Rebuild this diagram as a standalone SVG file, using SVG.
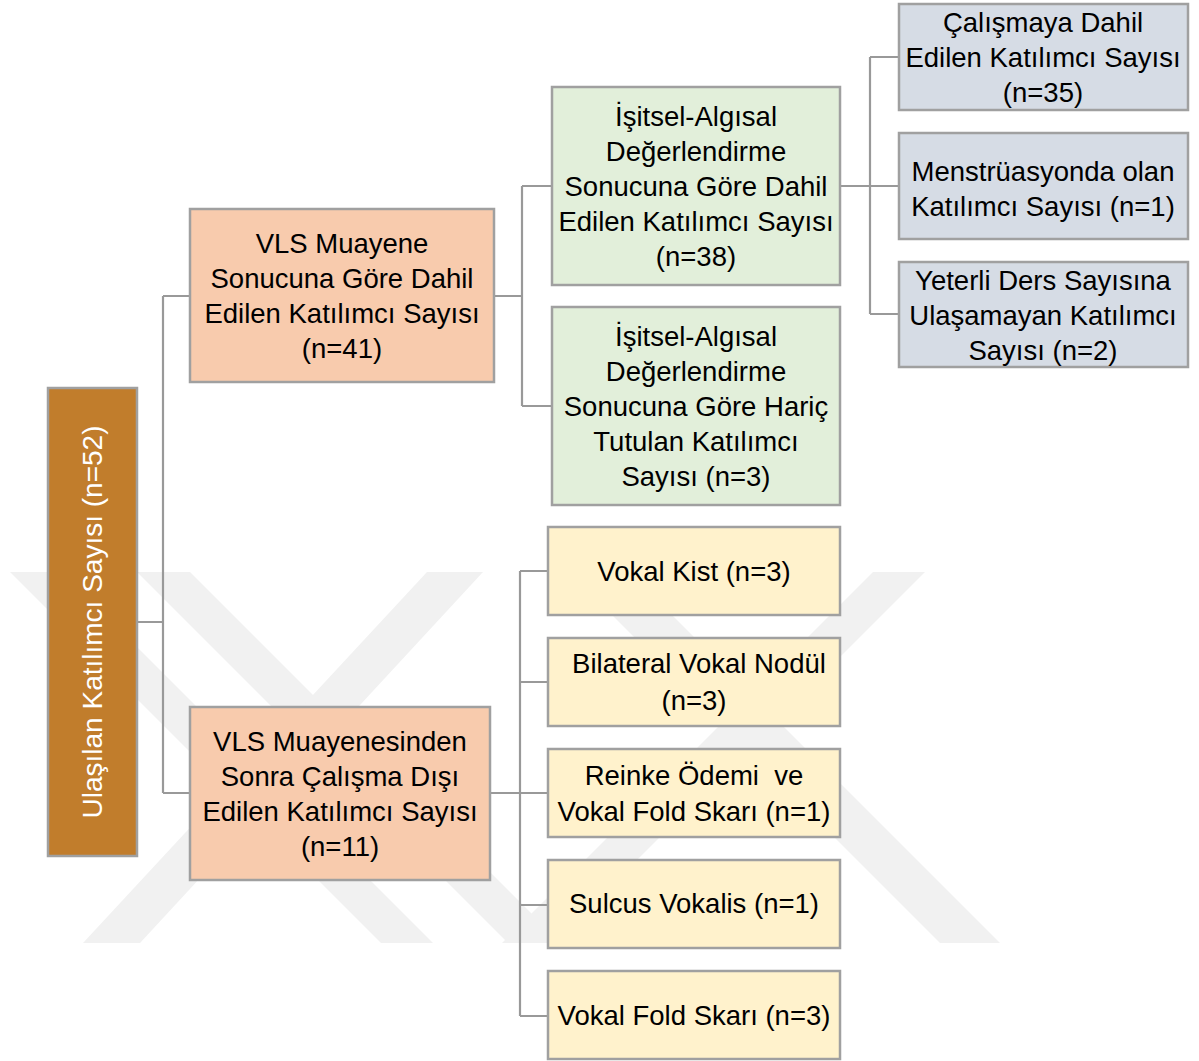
<svg xmlns="http://www.w3.org/2000/svg" width="1199" height="1061" viewBox="0 0 1199 1061">
  <style>
    .box { stroke: #a0a0a0; stroke-width: 2.5; }
    .root { fill: #c17d2c; }
    .salmon { fill: #f8cbad; }
    .green { fill: #e2efda; }
    .blue { fill: #d6dce5; }
    .yellow { fill: #fff2cc; }
    .t { font-family: "Liberation Sans", Arial, sans-serif; font-size: 27.5px; fill: #000; text-anchor: middle; }
    .tw { font-family: "Liberation Sans", Arial, sans-serif; font-size: 28px; fill: #ffffff; text-anchor: middle; }
    .conn { fill: none; stroke: #999999; stroke-width: 2.2; }
    .wm { fill: #f1f1f1; }
  </style>
  <rect width="1199" height="1061" fill="#ffffff"/>
  <g id="watermark">
    <polygon class="wm" points="10,572 62,572 433,943 381,943"/>
    <polygon class="wm" points="137,572 190,572 561,943 508,943"/>
    <polygon class="wm" points="427,572 483,572 140,943 83,943"/>
    <polygon class="wm" points="873,572 925,572 554,943 502,943"/>
    <polygon class="wm" points="569,572 629,572 1000,943 940,943"/>
  </g>
  <g id="connectors">
    <path class="conn" d="M137,622 H163 M163,296 V793 M163,296 H190 M163,793 H190"/>
    <path class="conn" d="M494,296 H522 M522,186 V406 M522,186 H552 M522,406 H552"/>
    <path class="conn" d="M840,186 H870 M870,57 V314 M870,57 H899 M870,186 H899 M870,314 H899"/>
    <path class="conn" d="M490,793 H520 M520,571 V1016 M520,571 H548 M520,682 H548 M520,793 H548 M520,905 H548 M520,1016 H548"/>
  </g>
  <g id="node-root">
    <rect class="box root" x="48" y="388" width="89" height="468"/>
    <text class="tw" transform="translate(102,622) rotate(-90)" x="0" y="0">Ulaşılan Katılımcı Sayısı (n=52)</text>
  </g>
  <g id="node-vls-dahil">
    <rect class="box salmon" x="190" y="209" width="304" height="173"/>
    <text class="t" x="342" y="253">VLS Muayene</text>
    <text class="t" x="342" y="288">Sonucuna Göre Dahil</text>
    <text class="t" x="342" y="323">Edilen Katılımcı Sayısı</text>
    <text class="t" x="342" y="358">(n=41)</text>
  </g>
  <g id="node-vls-disi">
    <rect class="box salmon" x="190" y="707" width="300" height="173"/>
    <text class="t" x="340" y="751">VLS Muayenesinden</text>
    <text class="t" x="340" y="786">Sonra Çalışma Dışı</text>
    <text class="t" x="340" y="821">Edilen Katılımcı Sayısı</text>
    <text class="t" x="340" y="856">(n=11)</text>
  </g>
  <g id="node-isitsel-dahil">
    <rect class="box green" x="552" y="87" width="288" height="198"/>
    <text class="t" x="696" y="126">İşitsel-Algısal</text>
    <text class="t" x="696" y="161">Değerlendirme</text>
    <text class="t" x="696" y="196">Sonucuna Göre Dahil</text>
    <text class="t" x="696" y="231">Edilen Katılımcı Sayısı</text>
    <text class="t" x="696" y="266">(n=38)</text>
  </g>
  <g id="node-isitsel-haric">
    <rect class="box green" x="552" y="307" width="288" height="198"/>
    <text class="t" x="696" y="346">İşitsel-Algısal</text>
    <text class="t" x="696" y="381">Değerlendirme</text>
    <text class="t" x="696" y="416">Sonucuna Göre Hariç</text>
    <text class="t" x="696" y="451">Tutulan Katılımcı</text>
    <text class="t" x="696" y="486">Sayısı (n=3)</text>
  </g>
  <g id="node-calismaya-dahil">
    <rect class="box blue" x="899" y="4" width="289" height="106"/>
    <text class="t" x="1043" y="32">Çalışmaya Dahil</text>
    <text class="t" x="1043" y="67">Edilen Katılımcı Sayısı</text>
    <text class="t" x="1043" y="102">(n=35)</text>
  </g>
  <g id="node-menstruasyon">
    <rect class="box blue" x="899" y="133" width="289" height="106"/>
    <text class="t" x="1043" y="181">Menstrüasyonda olan</text>
    <text class="t" x="1043" y="216">Katılımcı Sayısı (n=1)</text>
  </g>
  <g id="node-yetersiz-ders">
    <rect class="box blue" x="899" y="262" width="289" height="105"/>
    <text class="t" x="1043" y="290">Yeterli Ders Sayısına</text>
    <text class="t" x="1043" y="325">Ulaşamayan Katılımcı</text>
    <text class="t" x="1043" y="360">Sayısı (n=2)</text>
  </g>
  <g id="node-vokal-kist">
    <rect class="box yellow" x="548" y="527" width="292" height="88"/>
    <text class="t" x="694" y="581">Vokal Kist (n=3)</text>
  </g>
  <g id="node-nodul">
    <rect class="box yellow" x="548" y="638" width="292" height="88"/>
    <text class="t" x="699" y="673">Bilateral Vokal Nodül</text>
    <text class="t" x="694" y="710">(n=3)</text>
  </g>
  <g id="node-reinke">
    <rect class="box yellow" x="548" y="749" width="292" height="88"/>
    <text class="t" x="694" y="785" xml:space="preserve">Reinke Ödemi  ve</text>
    <text class="t" x="694" y="821">Vokal Fold Skarı (n=1)</text>
  </g>
  <g id="node-sulcus">
    <rect class="box yellow" x="548" y="860" width="292" height="88"/>
    <text class="t" x="694" y="913">Sulcus Vokalis (n=1)</text>
  </g>
  <g id="node-skar">
    <rect class="box yellow" x="548" y="971" width="292" height="88"/>
    <text class="t" x="694" y="1025">Vokal Fold Skarı (n=3)</text>
  </g>
</svg>
